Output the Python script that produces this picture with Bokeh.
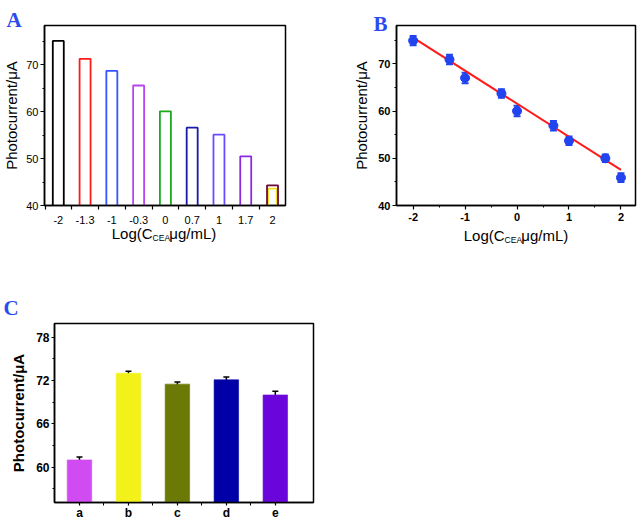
from bokeh.plotting import figure
from bokeh.models import FixedTicker, Label, Whisker, ColumnDataSource, TeeHead, Range1d
from bokeh.layouts import column, row
from bokeh.embed import file_html
from bokeh.resources import INLINE

# ---------------- data ----------------
conc_labels = ["-2", "-1.3", "-1", "-0.3", "0", "0.7", "1", "1.7", "2"]
log_conc = [-2, -1.3, -1, -0.3, 0, 0.7, 1, 1.7, 2]
pulse_current = [75.1, 71.3, 68.7, 65.6, 60.1, 56.6, 55.1, 50.5, 44.3]
pulse_colors = ["#000000", "#ff1a1a", "#3355ff", "#b844f0", "#1aaa1a",
                "#1a1aa8", "#6a4cff", "#8a2be2", "#6b0a3a"]
overlay_current = 43.6  # yellow trace beneath the last pulse

calib_current = [74.9, 70.9, 67.0, 63.7, 60.0, 56.9, 53.7, 50.0, 45.9]
calib_err = [1.0, 1.0, 1.1, 0.9, 1.1, 1.0, 0.9, 0.8, 0.9]
fit_slope = -7.0
fit_intercept = 61.55
b_ticks = [-2, -1, 0, 1, 2]
b_tick_labels = ["-2", "-1", "0", "1", "2"]

samples = ["a", "b", "c", "d", "e"]
sample_current = [61.0, 73.0, 71.5, 72.1, 70.0]
sample_err = [0.4, 0.3, 0.3, 0.4, 0.5]
sample_colors = ["#d04cf2", "#f2f21a", "#6b7a06", "#0000a6", "#6a06dc"]

FONT = "Liberation Sans"
SERIF = "Liberation Serif"
LETTER_COLOR = "#2b4bef"
NB = "\u00a0"

# Arial / Liberation Sans advance widths (em)
W = {"L": .556, "o": .556, "g": .556, "(": .333, "C": .722, "E": .667, "A": .667,
     "μ": .576, "/": .278, "m": .833, ")": .333, NB: .278}


def tw(s, size):
    return sum(W[c] for c in s) * size


def style(p, bold_ticks=False, tick_size="11px"):
    p.outline_line_color = "black"
    p.outline_line_width = 1.5
    p.background_fill_color = "white"
    p.border_fill_color = "white"
    p.xgrid.visible = False
    p.ygrid.visible = False
    for ax in (p.xaxis, p.yaxis):
        ax.axis_line_width = 1.5
        ax.major_tick_line_width = 1.2
        ax.minor_tick_line_width = 1.0
        ax.major_tick_in = 0
        ax.major_tick_out = 4
        ax.minor_tick_in = 0
        ax.minor_tick_out = 2
        ax.major_label_text_font = FONT
        ax.major_label_text_font_size = tick_size
        ax.major_label_text_font_style = "bold" if bold_ticks else "normal"
        ax.major_label_text_color = "black"
        ax.axis_label_text_font = FONT
        ax.axis_label_text_color = "black"
        ax.major_label_standoff = 2


def put(p, side, text, x, y, size, font=FONT, bold=False, color="black"):
    # canvas units: x from the figure's left edge, y from its top edge
    p.add_layout(Label(x=x, y=y, x_units="canvas", y_units="canvas",
                       text=text, text_font=font, text_font_size=f"{size}px",
                       text_font_style="bold" if bold else "normal",
                       text_color=color, text_baseline="alphabetic", text_align="left"),
                 side)


def xtitle(p, center_x, base_y, size=15, sub=8.5):
    head, gap, tail = "Log(C", NB * 4, "μg/mL)"
    main = head + gap + tail
    x = center_x - tw(main, size) / 2
    put(p, "below", main, x, base_y, size)
    put(p, "below", "CEA", x + tw(head, size), base_y + 4, sub)


def letter(p, text, x, y):
    put(p, "above", text, x, y, 21, font=SERIF, bold=True, color=LETTER_COLOR)


# ---------------- panel A ----------------
PW = 0.41
pA = figure(width=320, height=270, output_backend="svg", toolbar_location=None,
            x_range=Range1d(-0.31, 8.69), y_range=Range1d(40, 78.4),
            min_border_left=42, min_border_right=35, min_border_top=25, min_border_bottom=65)
style(pA)
n = len(pulse_current)
xs, ys = [], []
for i, v in enumerate(pulse_current):
    xs.append([i, i, i + PW, i + PW])
    ys.append([40, v, v, 40])
last = n - 1
pA.line([last + 0.05, last + 0.05, last + PW - 0.05, last + PW - 0.05],
        [40, overlay_current, overlay_current, 40], line_color="#f0e020", line_width=1.6)
pA.multi_line(xs, ys, line_color=pulse_colors, line_width=1.8)
centers = [i + PW / 2 for i in range(n)]
bounds = [i - 0.29 for i in range(n + 1)]
pA.xaxis.ticker = FixedTicker(ticks=centers, minor_ticks=bounds)
pA.xaxis.major_label_overrides = {c: l for c, l in zip(centers, conc_labels)}
pA.xaxis.major_tick_out = 0
pA.xaxis.minor_tick_out = 4
pA.xaxis.minor_tick_line_width = 1.2
pA.xaxis.major_label_standoff = 6
pA.yaxis.ticker = FixedTicker(ticks=[40, 50, 60, 70], minor_ticks=[45, 55, 65, 75])
pA.yaxis.axis_label = "Photocurrent/μA"
pA.yaxis.axis_label_text_font_size = "15px"
pA.yaxis.axis_label_text_font_style = "normal"
pA.yaxis.axis_label_standoff = 3
letter(pA, "A", 6, 19)
xtitle(pA, 163.5, 233)

# ---------------- panel B ----------------
B_X0 = 320
pB = figure(width=321, height=270, output_backend="svg", toolbar_location=None,
            x_range=Range1d(-2.32, 2.28), y_range=Range1d(40, 78.1),
            min_border_left=76, min_border_right=6, min_border_top=25, min_border_bottom=64)
style(pB, bold_ticks=True)
src = ColumnDataSource(dict(x=log_conc, y=calib_current,
                            upper=[v + e for v, e in zip(calib_current, calib_err)],
                            lower=[v - e for v, e in zip(calib_current, calib_err)]))
fit_x = [min(log_conc), max(log_conc)]
fit_y = [fit_intercept + fit_slope * x for x in fit_x]
pB.line(fit_x, fit_y, line_color="#ff1a1a", line_width=2)
pB.add_layout(Whisker(source=src, base="x", upper="upper", lower="lower",
                      line_color="#2244ee", line_width=2,
                      upper_head=TeeHead(size=7, line_color="#2244ee", line_width=2),
                      lower_head=TeeHead(size=7, line_color="#2244ee", line_width=2)))
pB.scatter("x", "y", source=src, size=9, marker="circle", fill_color="#2244ee",
           line_color="#2244ee")
pB.xaxis.ticker = FixedTicker(ticks=b_ticks, minor_ticks=[-1.5, -0.5, 0.5, 1.5])
pB.xaxis.major_label_overrides = {t: l for t, l in zip(b_ticks, b_tick_labels)}
pB.xaxis.major_label_standoff = 3
pB.yaxis.ticker = FixedTicker(ticks=[40, 50, 60, 70], minor_ticks=[45, 55, 65, 75])
pB.yaxis.axis_label = "Photocurrent/μA"
pB.yaxis.axis_label_text_font_size = "15px"
pB.yaxis.axis_label_text_font_style = "normal"
pB.yaxis.axis_label_standoff = 5
letter(pB, "B", 373 - B_X0, 23)
xtitle(pB, 515.5 - B_X0, 235)

# ---------------- panel C ----------------
C_Y0 = 270
pC = figure(width=320, height=252, output_backend="svg", toolbar_location=None,
            x_range=Range1d(-0.51, 4.78), y_range=Range1d(55.1, 79.9),
            min_border_left=54, min_border_right=7, min_border_top=53, min_border_bottom=19)
style(pC, bold_ticks=True, tick_size="12px")
idx = list(range(len(samples)))
pC.vbar(x=idx, top=sample_current, bottom=55.1, width=0.5, fill_color=sample_colors,
        line_color=sample_colors, line_alpha=0.6)
srcC = ColumnDataSource(dict(x=idx,
                             upper=[v + e for v, e in zip(sample_current, sample_err)],
                             lower=[v - e for v, e in zip(sample_current, sample_err)]))
pC.add_layout(Whisker(source=srcC, base="x", upper="upper", lower="lower",
                      line_color="black", line_width=1.5,
                      upper_head=TeeHead(size=6, line_color="black", line_width=1.5),
                      lower_head=TeeHead(size=6, line_color="black", line_width=1.5)))
pC.xaxis.ticker = FixedTicker(ticks=idx, minor_ticks=[0.5, 1.5, 2.5, 3.5])
pC.xaxis.major_label_overrides = {i: s for i, s in zip(idx, samples)}
pC.xaxis.major_tick_out = 3
pC.xaxis.minor_tick_out = 3
pC.xaxis.major_label_standoff = 0
pC.yaxis.ticker = FixedTicker(ticks=[60, 66, 72, 78], minor_ticks=[57, 63, 69, 75])
pC.yaxis.major_tick_out = 3
pC.yaxis.axis_label = "Photocurrent/μA"
pC.yaxis.axis_label_text_font_size = "15px"
pC.yaxis.axis_label_text_font_style = "bold"
pC.yaxis.axis_label_standoff = 6
letter(pC, "C", 3, 307 - C_Y0)

layout = column(row(pA, pB), pC)
open("out.html", "w").write(file_html(layout, INLINE))
